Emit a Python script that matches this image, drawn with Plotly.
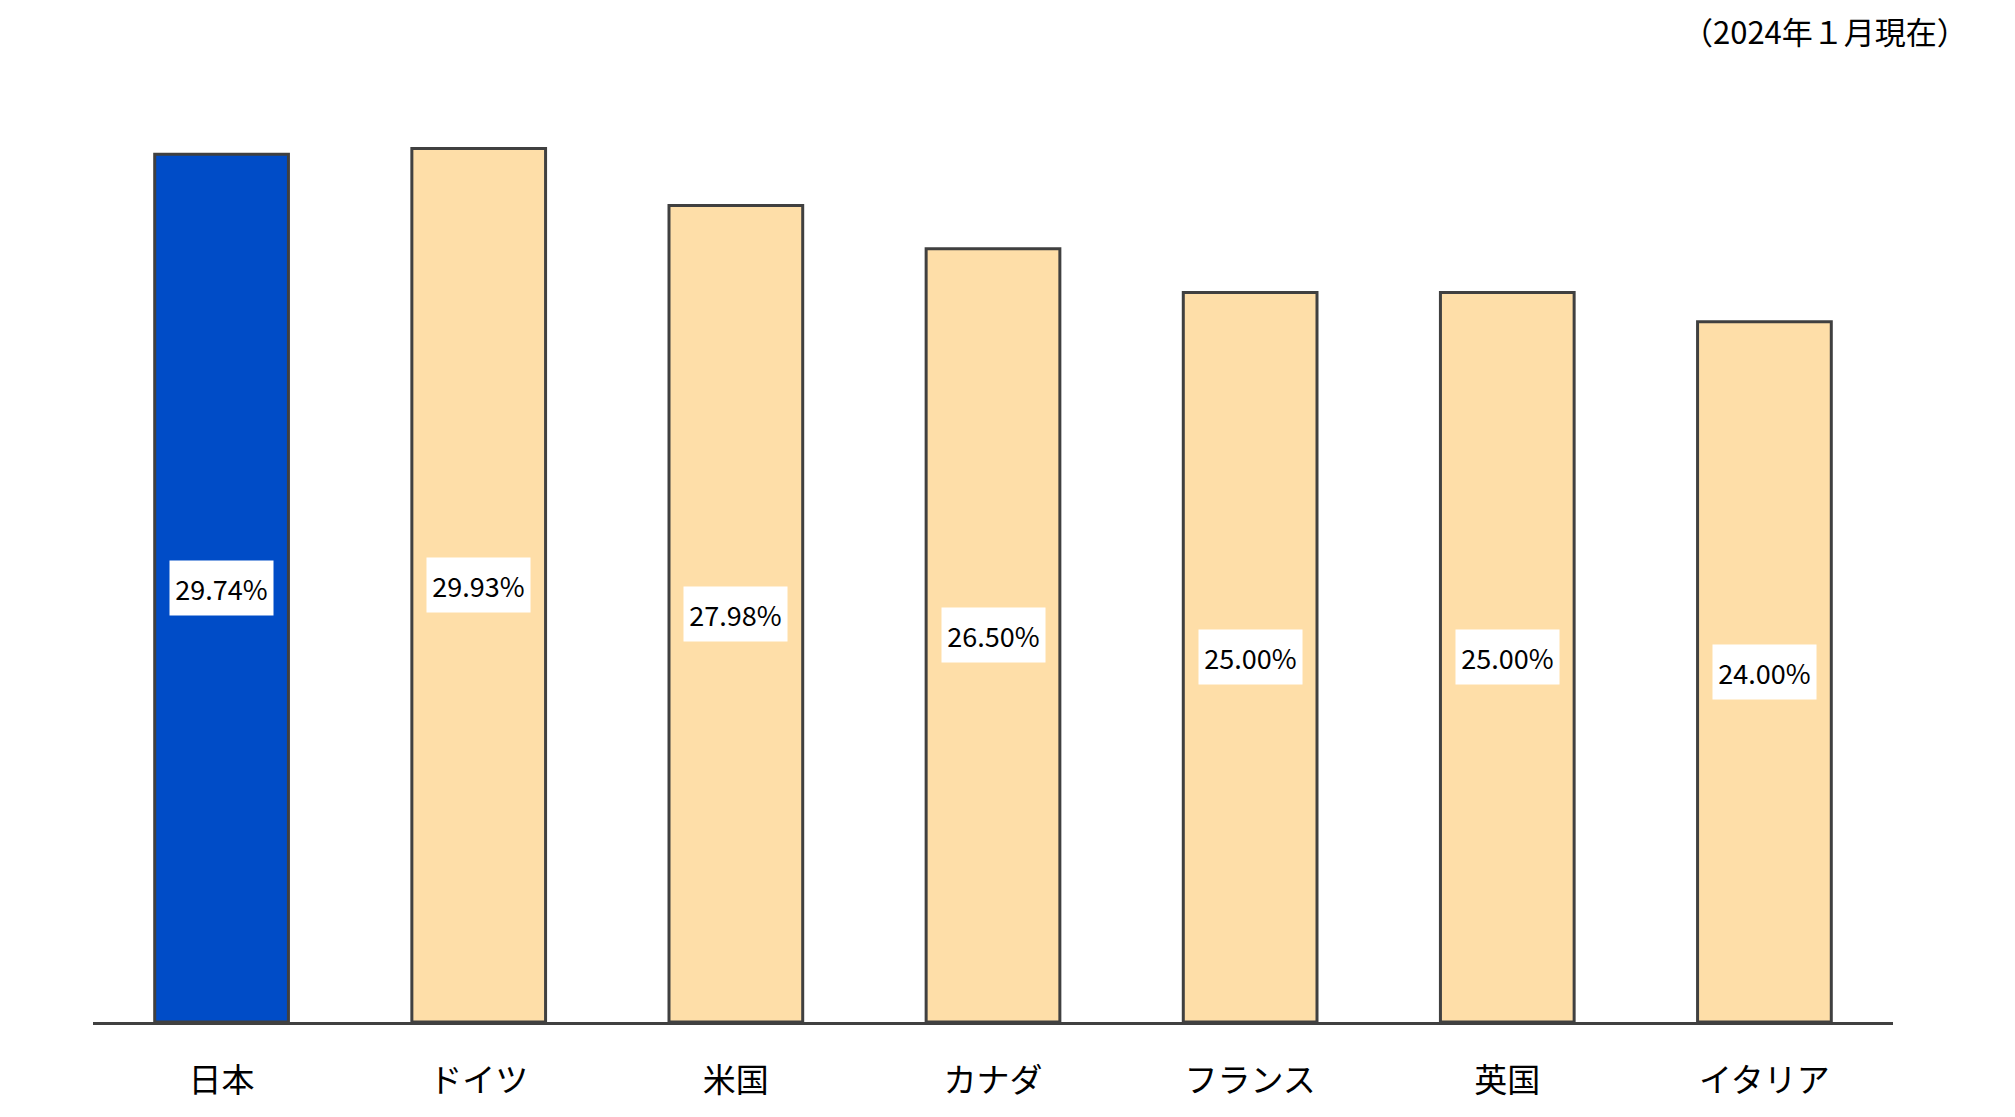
import plotly.graph_objects as go

categories = ["日本", "ドイツ", "米国", "カナダ", "フランス", "英国", "イタリア"]
values = [29.74, 29.93, 27.98, 26.50, 25.00, 25.00, 24.00]
labels = ["29.74%", "29.93%", "27.98%", "26.50%", "25.00%", "25.00%", "24.00%"]
colors = ["#004CC7"] + ["#FEDEA8"] * 6
note = "（2024年１月現在）"

FONT = "Noto Sans CJK JP, Meiryo, sans-serif"

fig = go.Figure()
fig.add_trace(go.Bar(
    x=categories, y=values,
    marker=dict(color=colors, line=dict(color="#404040", width=3)),
    width=0.52, hoverinfo="skip",
))

for c, v, t in zip(categories, values, labels):
    fig.add_annotation(
        x=c, y=v / 2, text=t, showarrow=False,
        font=dict(family=FONT, size=27, color="#000000"),
        bgcolor="#FFFFFF", width=99, height=50, borderpad=2,
    )

fig.add_annotation(
    xref="paper", yref="paper", x=1.043, y=1.03, xanchor="right", yanchor="middle",
    text=note, showarrow=False,
    font=dict(family=FONT, size=31, color="#000000"),
)

fig.update_layout(
    width=2015, height=1117,
    margin=dict(l=85, r=130, t=51, b=103),
    plot_bgcolor="#FFFFFF", paper_bgcolor="#FFFFFF",
    showlegend=False, bargap=0.45,
    font=dict(family=FONT),
)
fig.update_xaxes(
    showline=True, linecolor="#404040", linewidth=3,
    showgrid=False, ticks="", ticklabelstandoff=27,
    tickfont=dict(family=FONT, size=33, color="#000000"),
    range=[-0.5, 6.5],
)
fig.update_yaxes(
    range=[0, 33], showgrid=False, showticklabels=False, zeroline=False, showline=False,
)

fig.write_html("out.html")
